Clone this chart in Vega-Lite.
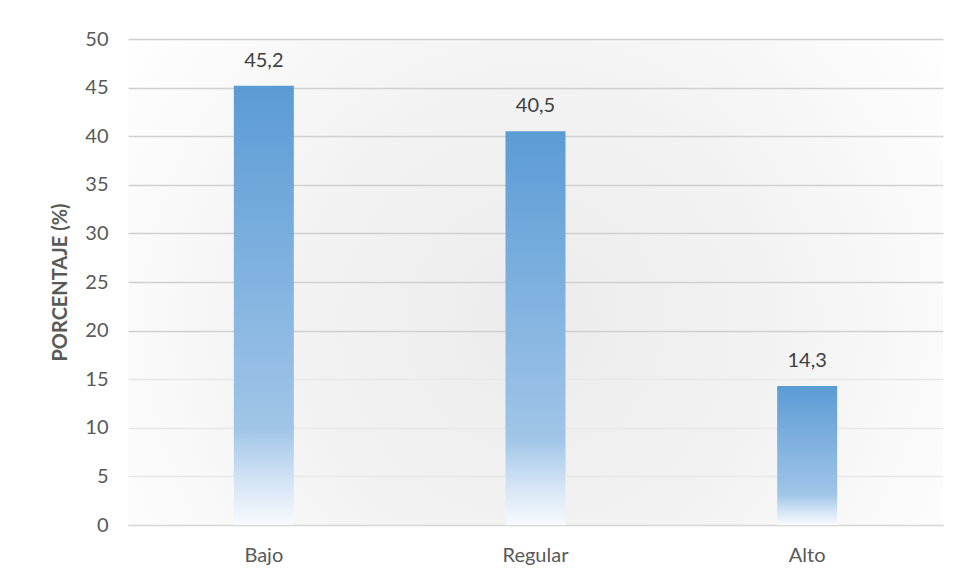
{
  "$schema": "https://vega.github.io/schema/vega-lite/v6.json",
  "width": 815,
  "height": 486,
  "autosize": {"type": "none"},
  "padding": {"left": 128, "top": 39, "right": 16, "bottom": 58},
  "background": "#ffffff",
  "config": {
    "locale": {"number": {"decimal": ",", "thousands": ".", "grouping": [3], "currency": ["", " €"]}},
    "font": "Lato",
    "view": {
      "stroke": null,
      "fill": {
        "gradient": "radial",
        "x1": 0.5, "y1": 0.55, "r1": 0,
        "x2": 0.5, "y2": 0.55, "r2": 0.62,
        "stops": [
          {"offset": 0, "color": "#ececec"},
          {"offset": 0.5, "color": "#f3f3f3"},
          {"offset": 1, "color": "#ffffff"}
        ]
      }
    },
    "axis": {
      "labelFont": "Lato",
      "titleFont": "Lato",
      "labelColor": "#595959",
      "titleColor": "#595959",
      "labelFontSize": 20,
      "ticks": false
    }
  },
  "data": {
    "values": [
      {"nivel": "Bajo", "porcentaje": 45.2},
      {"nivel": "Regular", "porcentaje": 40.5},
      {"nivel": "Alto", "porcentaje": 14.3}
    ]
  },
  "encoding": {
    "x": {
      "field": "nivel",
      "type": "nominal",
      "sort": null,
      "scale": {"paddingInner": 0, "paddingOuter": 0},
      "axis": {
        "title": null,
        "labelAngle": 0,
        "labelPadding": 20,
        "domainColor": "#d9d9d9",
        "domainWidth": 1.5,
        "grid": false
      }
    },
    "y": {
      "field": "porcentaje",
      "type": "quantitative",
      "scale": {"domain": [0, 50], "nice": false},
      "axis": {
        "title": "PORCENTAJE (%)",
        "titleFontSize": 20,
        "titleFontWeight": "bold",
        "titleX": -68,
        "titleY": 243,
        "titleAngle": -90,
        "titleAlign": "center",
        "titleBaseline": "middle",
        "values": [0, 5, 10, 15, 20, 25, 30, 35, 40, 45, 50],
        "labelPadding": 20,
        "domain": false,
        "gridColor": {"condition": {"test": "datum.value <= 15", "value": "#e8e8e8"}, "value": "#d0d0d0"},
        "gridWidth": 1.5
      }
    }
  },
  "layer": [
    {
      "mark": {
        "type": "bar",
        "width": 60,
        "color": {
          "gradient": "linear",
          "x1": 0, "y1": 0, "x2": 0, "y2": 1,
          "stops": [
            {"offset": 0, "color": "#5b9bd5"},
            {"offset": 0.78, "color": "#a0c5e8"},
            {"offset": 0.9, "color": "#d3e4f5"},
            {"offset": 1, "color": "#f7fafd"}
          ]
        }
      }
    },
    {
      "mark": {"type": "text", "dy": -25, "fontSize": 20, "color": "#404040", "font": "Lato"},
      "encoding": {
        "text": {"field": "porcentaje", "type": "quantitative", "format": ".1f"}
      }
    }
  ]
}
